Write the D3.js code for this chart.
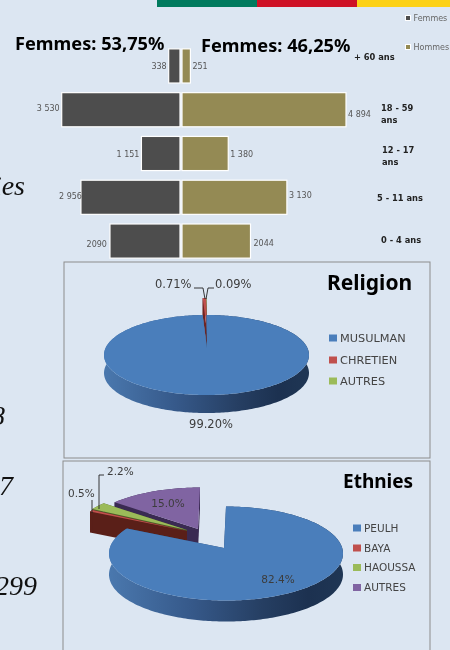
<!DOCTYPE html>
<html>
<head>
<meta charset="utf-8">
<script src="https://cdn.jsdelivr.net/npm/d3@7"></script>
<style>
  html, body { margin: 0; padding: 0; background: #dce6f2; overflow: hidden; }
  svg { display: block; filter: blur(0.35px); }
</style>
</head>
<body>
<svg id="chart" width="450" height="650"></svg>
<script>
// Data
const ageGroups = ["+ 60 ans", "18 - 59 ans", "12 - 17 ans", "5 - 11 ans", "0 - 4 ans"];
const femmes = [338, 3530, 1151, 2956, 2090];
const hommes = [251, 4894, 1380, 3130, 2044];
const femmesLabels = ["338", "3 530", "1 151", "2 956", "2090"];
const hommesLabels = ["251", "4 894", "1 380", "3 130", "2044"];
const totals = ["Femmes: 53,75%", "Femmes: 46,25%"];

const religions = ["MUSULMAN", "CHRETIEN", "AUTRES"];
const religionValues = [99.2, 0.71, 0.09];
const ethnies = ["PEULH", "BAYA", "HAOUSSA", "AUTRES"];
const ethnieValues = [82.4, 0.5, 2.2, 15.0];

const sansFont = "'DejaVu Sans', sans-serif";
const titleFont = "'Noto Sans', sans-serif";

const svg = d3.select("#chart");
svg.append("rect").attr("width", 450).attr("height", 650).attr("fill", "#dce6f2");

// Flag strip at the top
const stripColors = ["#007a5e", "#ce1126", "#fcd116"];
svg.selectAll(".strip")
  .data(stripColors)
  .enter()
  .append("rect")
  .attr("x", (d, i) => 157 + i * 100)
  .attr("y", 0)
  .attr("width", 100)
  .attr("height", 7)
  .attr("fill", (d) => d);

// Cropped italic text from the slide behind the charts
const sideText = [["ies", 25, 195], ["8", 5, 425], ["7", 13, 495], ["299", 37, 595]];
svg.selectAll(".side")
  .data(sideText)
  .enter()
  .append("text")
  .attr("x", (d) => d[1])
  .attr("y", (d) => d[2])
  .attr("text-anchor", "end")
  .attr("font-family", "'Liberation Serif', serif")
  .attr("font-style", "italic")
  .attr("font-size", 28)
  .attr("fill", "#111")
  .text((d) => d[0]);

// Pyramid
const unit = d3.scaleLinear().domain([0, 4894]).range([0, 164]);
const yBand = d3.scaleBand().domain(ageGroups).range([48, 259]).paddingInner(0.22).paddingOuter(0.02);
const femaleX = 180;
const maleX = 182;

const pyramid = svg.append("g");
pyramid.selectAll(".f")
  .data(femmes)
  .enter()
  .append("rect")
  .attr("x", (d) => femaleX - unit(d))
  .attr("y", (d, i) => yBand(ageGroups[i]))
  .attr("width", (d) => unit(d))
  .attr("height", yBand.bandwidth())
  .attr("fill", "#4d4d4d")
  .attr("stroke", "#fff")
  .attr("stroke-width", 1.2);
pyramid.selectAll(".h")
  .data(hommes)
  .enter()
  .append("rect")
  .attr("x", maleX)
  .attr("y", (d, i) => yBand(ageGroups[i]))
  .attr("width", (d) => unit(d))
  .attr("height", yBand.bandwidth())
  .attr("fill", "#948a54")
  .attr("stroke", "#fff")
  .attr("stroke-width", 1.2);

// small nudges, the labels don't sit evenly in the original
const femaleNudge = [[0, 0], [0, -2], [0, 0], [3, -1], [-1, 3]];
const maleNudge = [[0, 0], [0, 4], [0, 0], [0, -2], [1, 2]];
pyramid.selectAll(".fl")
  .data(femmesLabels)
  .enter()
  .append("text")
  .attr("x", (d, i) => femaleX - unit(femmes[i]) - 2 + femaleNudge[i][0])
  .attr("y", (d, i) => yBand(ageGroups[i]) + yBand.bandwidth() / 2 + 3 + femaleNudge[i][1])
  .attr("text-anchor", "end")
  .attr("font-family", sansFont)
  .attr("font-size", 8)
  .attr("fill", "#555")
  .text((d) => d);
pyramid.selectAll(".hl")
  .data(hommesLabels)
  .enter()
  .append("text")
  .attr("x", (d, i) => maleX + unit(hommes[i]) + 2 + maleNudge[i][0])
  .attr("y", (d, i) => yBand(ageGroups[i]) + yBand.bandwidth() / 2 + 3 + maleNudge[i][1])
  .attr("font-family", sansFont)
  .attr("font-size", 8)
  .attr("fill", "#555")
  .text((d) => d);

// Age labels, some wrap on two lines
const ageLines = [["+ 60 ans"], ["18 - 59", "ans"], ["12 - 17", "ans"], ["5 - 11 ans"], ["0 - 4 ans"]];
const agePos = [[354, 60], [381, 111], [382, 153], [377, 201], [381, 243]];
ageLines.forEach((lines, i) => {
  lines.forEach((line, j) => {
    svg.append("text")
      .attr("x", agePos[i][0])
      .attr("y", agePos[i][1] + j * 12)
      .attr("font-family", sansFont)
      .attr("font-weight", "bold")
      .attr("font-size", 8.3)
      .attr("fill", "#222")
      .text(line);
  });
});

svg.selectAll(".total")
  .data(totals)
  .enter()
  .append("text")
  .attr("x", (d, i) => (i === 0 ? 15 : 201))
  .attr("y", (d, i) => (i === 0 ? 50 : 52))
  .attr("font-family", titleFont)
  .attr("font-weight", "bold")
  .attr("font-size", 18.2)
  .attr("fill", "#000")
  .text((d) => d);

// Pyramid legend, clipped by the page edge
[["Femmes", "#4d4d4d", 18], ["Hommes", "#948a54", 47]].forEach((d) => {
  svg.append("rect")
    .attr("x", 405.5).attr("y", d[2] - 2.5)
    .attr("width", 5).attr("height", 5)
    .attr("fill", d[1]).attr("stroke", "#fff");
  svg.append("text")
    .attr("x", 413.5).attr("y", d[2] + 2.5)
    .attr("font-family", sansFont)
    .attr("font-size", 8)
    .attr("fill", "#666")
    .text(d[0]);
});

// Panels
[[64, 262, 366, 196], [63, 461, 367, 195]].forEach((p) => {
  svg.append("rect")
    .attr("x", p[0]).attr("y", p[1])
    .attr("width", p[2]).attr("height", p[3])
    .attr("fill", "#dce6f2")
    .attr("stroke", "#8c8c8c");
});

// Blue rim gradient
const grad = svg.append("defs").append("linearGradient").attr("id", "rimBlue");
[["0%", "#4a78ae"], ["35%", "#36598a"], ["65%", "#263f63"], ["85%", "#1c3150"], ["100%", "#1f3654"]].forEach((s) => {
  grad.append("stop").attr("offset", s[0]).attr("stop-color", s[1]);
});

const lineGen = d3.line();

// 3D pie: angles come from d3.pie, rim is a flattened ellipse a little below the apex
function drawPie(g, values, opt) {
  const arcs = d3.pie().sort(null).value((d) => d)(values);
  const warp = (a) => a + opt.warp * Math.sin(2 * a);
  const rim = (a, o) => {
    const w = warp(a);
    return [
      opt.cx + o[0] + opt.rx * Math.sin(w),
      opt.cy + o[1] - opt.ry * Math.cos(w),
    ];
  };
  opt.order.forEach((i) => {
    const d = arcs[i];
    const o = opt.offsets[i];
    const steps = Math.max(4, Math.ceil((d.endAngle - d.startAngle) * 40));
    const angles = d3.range(steps + 1).map((k) => d.startAngle + ((d.endAngle - d.startAngle) * k) / steps);
    const pts = angles.map((a) => rim(a, o));
    const apex = [opt.apexX + o[0], opt.apexY + o[1]];
    const down = (p) => [p[0], p[1] + opt.depth];

    // walls first, the top face hides whatever faces away
    g.append("path")
      .attr("d", lineGen(pts.concat(pts.slice().reverse().map(down))) + "Z")
      .attr("fill", opt.walls[i]);
    [pts[0], pts[pts.length - 1]].forEach((p) => {
      g.append("path")
        .attr("d", lineGen([apex, p, down(p), down(apex)]) + "Z")
        .attr("fill", opt.sides[i]);
    });
    g.append("path")
      .attr("d", lineGen([apex].concat(pts)) + "Z")
      .attr("fill", opt.colors[i]);
  });
}

function drawLegend(names, colors, x, ys, size, fontSize) {
  names.forEach((name, i) => {
    svg.append("rect")
      .attr("x", x).attr("y", ys[i] - size / 2 + 0.5)
      .attr("width", size).attr("height", size - 1)
      .attr("fill", colors[i]);
    svg.append("text")
      .attr("x", x + size + 3).attr("y", ys[i] + fontSize * 0.38)
      .attr("font-family", sansFont)
      .attr("font-size", fontSize)
      .attr("fill", "#444")
      .text(name);
  });
}

function label(text, x, y, anchor, size) {
  svg.append("text")
    .attr("x", x).attr("y", y)
    .attr("text-anchor", anchor)
    .attr("font-family", sansFont)
    .attr("font-size", size)
    .attr("fill", "#3c3c3c")
    .text(text);
}

function leader(points) {
  svg.append("path")
    .attr("d", lineGen(points))
    .attr("fill", "none")
    .attr("stroke", "#222")
    .attr("stroke-width", 0.9);
}

function title(text, x, y, size) {
  svg.append("text")
    .attr("x", x).attr("y", y)
    .attr("font-family", titleFont)
    .attr("font-weight", "bold")
    .attr("font-size", size)
    .attr("fill", "#000")
    .text(text);
}

const pieColors = ["#4a7ebb", "#c0504d", "#9bbb59", "#8064a2"];

// Religion
drawPie(svg.append("g"), religionValues, {
  cx: 206.5, cy: 355, rx: 102.5, ry: 40, apexX: 207, apexY: 348, depth: 18, warp: -0.13,
  order: [2, 1, 0],
  offsets: [[0, 0], [0, -17], [0, -17]],
  colors: pieColors,
  walls: ["url(#rimBlue)", "#6e2422", "#5a6e30"],
  sides: ["#2c4a72", "#6e2422", "#5a6e30"],
});
title("Religion", 327, 290, 21);
drawLegend(religions, pieColors, 329, [338, 360, 381], 8, 11.3);
label(religionValues[0].toFixed(2) + "%", 211, 428, "middle", 11.5);
label(religionValues[1].toFixed(2) + "%", 155, 288, "start", 11.5);
label(religionValues[2].toFixed(2) + "%", 215, 288, "start", 11.5);
leader([[194, 288], [203, 288], [205, 299]]);
leader([[214, 288], [208, 288], [206, 299]]);

// Ethnies
drawPie(svg.append("g"), ethnieValues, {
  cx: 226, cy: 553.5, rx: 117, ry: 47, apexX: 224, apexY: 548, depth: 21, warp: -0.13,
  order: [3, 2, 1, 0],
  offsets: [[0, 0], [-37, -17], [-37, -18], [-26, -19]],
  colors: pieColors,
  walls: ["url(#rimBlue)", "#5a1f18", "#4d5c28", "#3a2a52"],
  sides: ["#2c4a72", "#5a1f18", "#4d5c28", "#3a2a52"],
});
title("Ethnies", 343, 488, 19);
drawLegend(ethnies, pieColors, 353, [528, 548, 567.5, 587.5], 8, 10.5);
label(ethnieValues[0].toFixed(1) + "%", 278, 583, "middle", 10.5);
label(ethnieValues[3].toFixed(1) + "%", 168, 507, "middle", 10.5);
label(ethnieValues[2].toFixed(1) + "%", 107, 475, "start", 10.5);
label(ethnieValues[1].toFixed(1) + "%", 68, 497, "start", 10.5);
leader([[104, 475], [99, 475], [99, 509]]);
leader([[92, 500], [92, 513]]);
</script>
</body>
</html>
